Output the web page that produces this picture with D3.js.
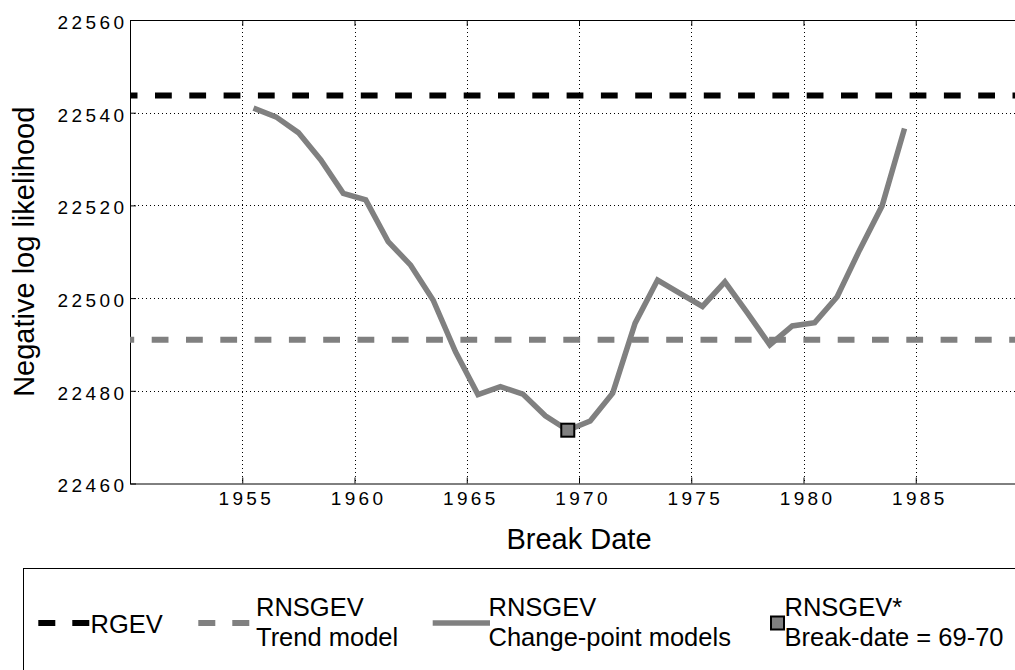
<!DOCTYPE html>
<html>
<head>
<meta charset="utf-8">
<script src="https://cdn.jsdelivr.net/npm/d3@7"></script>
<style>
  html, body { margin: 0; padding: 0; background: #fff; }
  svg { display: block; font-family: "Liberation Sans", Arial, sans-serif; }
</style>
</head>
<body>
<svg id="chart" width="1015" height="670"></svg>
<script>
// Break dates tested for the change-point models (mid-year positions)
const breakYears = [1955.5, 1956.5, 1957.5, 1958.5, 1959.5, 1960.5, 1961.5, 1962.5, 1963.5, 1964.5,
                    1965.5, 1966.5, 1967.5, 1968.5, 1969.5, 1970.5, 1971.5, 1972.5, 1973.5, 1974.5,
                    1975.5, 1976.5, 1977.5, 1978.5, 1979.5, 1980.5, 1981.5, 1982.5, 1983.5, 1984.5];
// Negative log likelihood of each RNSGEV change-point model
const changePointNll = [22541.0, 22539.1, 22535.7, 22529.8, 22522.6, 22521.2, 22512.2, 22507.1, 22499.6, 22488.4,
                        22479.2, 22480.9, 22479.3, 22474.6, 22471.5, 22473.5, 22479.5, 22494.6, 22503.9, 22501.0,
                        22498.2, 22503.5, 22496.8, 22489.9, 22494.0, 22494.7, 22500.3, 22510.4, 22519.9, 22536.6];
// Reference models (constant levels)
const rgevNll = 22543.7;
const trendNll = 22491.0;
// Best break date (index into the series above)
const bestIndex = 14;

const xDomain = [1950, 1990];
const yDomain = [22460, 22560];
const xTicks = [1955, 1960, 1965, 1970, 1975, 1980, 1985];
const yTicks = [22460, 22480, 22500, 22520, 22540, 22560];

const legendLabels = [
  ["RGEV"],
  ["RNSGEV", "Trend model"],
  ["RNSGEV", "Change-point models"],
  ["RNSGEV*", "Break-date = 69-70"]
];

const GREY = "#808080";
const FONT = "Liberation Sans, Arial, sans-serif";
const svg = d3.select("#chart");

const plot = { left: 130, right: 1028, top: 20, bottom: 483.5 };
const x = d3.scaleLinear().domain(xDomain).range([plot.left, plot.right]);
const y = d3.scaleLinear().domain(yDomain).range([plot.bottom, plot.top]);

svg.append("defs").append("clipPath").attr("id", "plotclip")
  .append("rect").attr("x", plot.left).attr("y", plot.top)
  .attr("width", plot.right - plot.left).attr("height", plot.bottom - plot.top);

// Dotted grid
const grid = svg.append("g");
grid.selectAll("line.gx").data(xTicks).join("line")
  .attr("x1", d => Math.round(x(d)) + 0.5).attr("x2", d => Math.round(x(d)) + 0.5)
  .attr("y1", plot.top).attr("y2", plot.bottom)
  .attr("stroke", "#000").attr("stroke-width", 1).attr("stroke-dasharray", "1,3");
grid.selectAll("line.gy").data(yTicks.slice(1, -1)).join("line")
  .attr("y1", d => Math.round(y(d)) + 0.5).attr("y2", d => Math.round(y(d)) + 0.5)
  .attr("x1", plot.left).attr("x2", plot.right)
  .attr("stroke", "#000").attr("stroke-width", 1).attr("stroke-dasharray", "1,3");

// Axes with inward ticks
const tickFmt = d3.format("d");
const styleTicks = g => g.selectAll(".tick text")
  .attr("font-size", 19).attr("letter-spacing", "3.4px")
  .attr("fill", "#000").attr("font-family", FONT);

const gx = svg.append("g").attr("transform", `translate(0,${plot.bottom})`)
  .call(d3.axisBottom(x).tickValues(xTicks).tickFormat(tickFmt)
    .tickSizeInner(-6).tickSizeOuter(0).tickPadding(8.5));
gx.attr("font-size", 19).attr("font-family", FONT);
gx.select(".domain").attr("stroke", "#000");
styleTicks(gx);
gx.selectAll(".tick text").attr("dx", "3.6");

const gxt = svg.append("g").attr("transform", `translate(0,${plot.top})`)
  .call(d3.axisTop(x).tickValues(xTicks).tickSizeInner(-6).tickSizeOuter(0).tickFormat(""));
gxt.select(".domain").attr("stroke", "#000");

const gy = svg.append("g").attr("transform", `translate(${plot.left},0)`)
  .call(d3.axisLeft(y).tickValues(yTicks).tickFormat(tickFmt)
    .tickSizeInner(-6).tickSizeOuter(0).tickPadding(6));
gy.attr("font-size", 19).attr("font-family", FONT);
gy.select(".domain").attr("stroke", "#000");
styleTicks(gy);
gy.selectAll(".tick text").attr("dx", "3.4").attr("dy", "0.44em");

// Axis titles
svg.append("text").attr("x", x(1970)).attr("y", 548.5)
  .attr("text-anchor", "middle").attr("font-size", "29px").text("Break Date");
svg.append("text").attr("transform", `translate(34,${(plot.top + plot.bottom) / 2}) rotate(-90)`)
  .attr("text-anchor", "middle").attr("font-size", "29px").text("Negative log likelihood");

// Data layer
const layer = svg.append("g").attr("clip-path", "url(#plotclip)");

layer.append("line")
  .attr("x1", x(xDomain[0])).attr("x2", x(xDomain[1]))
  .attr("y1", y(rgevNll)).attr("y2", y(rgevNll))
  .attr("stroke", "#000").attr("stroke-width", 6)
  .attr("stroke-dasharray", "16.8,17.5").attr("stroke-dashoffset", 9.3);

layer.append("line")
  .attr("x1", x(xDomain[0])).attr("x2", x(xDomain[1]))
  .attr("y1", y(trendNll)).attr("y2", y(trendNll))
  .attr("stroke", GREY).attr("stroke-width", 6)
  .attr("stroke-dasharray", "16.8,17.5").attr("stroke-dashoffset", 12.6);

const line = d3.line().x((d, i) => x(breakYears[i])).y(d => y(d));
layer.append("path").datum(changePointNll)
  .attr("d", line).attr("fill", "none")
  .attr("stroke", GREY).attr("stroke-width", 5.5).attr("stroke-linejoin", "miter");

const ms = 13;
layer.append("rect")
  .attr("x", x(breakYears[bestIndex]) - ms / 2).attr("y", y(changePointNll[bestIndex]) - ms / 2)
  .attr("width", ms).attr("height", ms)
  .attr("fill", GREY).attr("stroke", "#000").attr("stroke-width", 2);

// Legend
const lg = svg.append("g");
lg.append("rect").attr("x", 23.5).attr("y", 568.5).attr("width", 1100).attr("height", 200)
  .attr("fill", "#fff").attr("stroke", "#000").attr("stroke-width", 1);

const ly = 623;
lg.append("line").attr("x1", 38.3).attr("x2", 89.3).attr("y1", ly).attr("y2", ly)
  .attr("stroke", "#000").attr("stroke-width", 6).attr("stroke-dasharray", "17,17");
lg.append("line").attr("x1", 198.3).attr("x2", 249.3).attr("y1", ly).attr("y2", ly)
  .attr("stroke", GREY).attr("stroke-width", 6).attr("stroke-dasharray", "17,17");
lg.append("line").attr("x1", 432.7).attr("x2", 490).attr("y1", ly).attr("y2", ly)
  .attr("stroke", GREY).attr("stroke-width", 5.5);
lg.append("rect").attr("x", 777.5 - ms / 2).attr("y", ly - ms / 2).attr("width", ms).attr("height", ms)
  .attr("fill", GREY).attr("stroke", "#000").attr("stroke-width", 2);

const legendX = [90.5, 256, 488.5, 784.5];
legendLabels.forEach((lines, i) => {
  const t = lg.append("text").attr("font-size", "25.5px").attr("fill", "#000");
  if (lines.length === 1) {
    t.append("tspan").attr("x", legendX[i]).attr("y", 632.5).text(lines[0]);
  } else {
    t.append("tspan").attr("x", legendX[i]).attr("y", 615.5).text(lines[0]);
    t.append("tspan").attr("x", legendX[i]).attr("y", 646).text(lines[1]);
  }
});
</script>
</body>
</html>
